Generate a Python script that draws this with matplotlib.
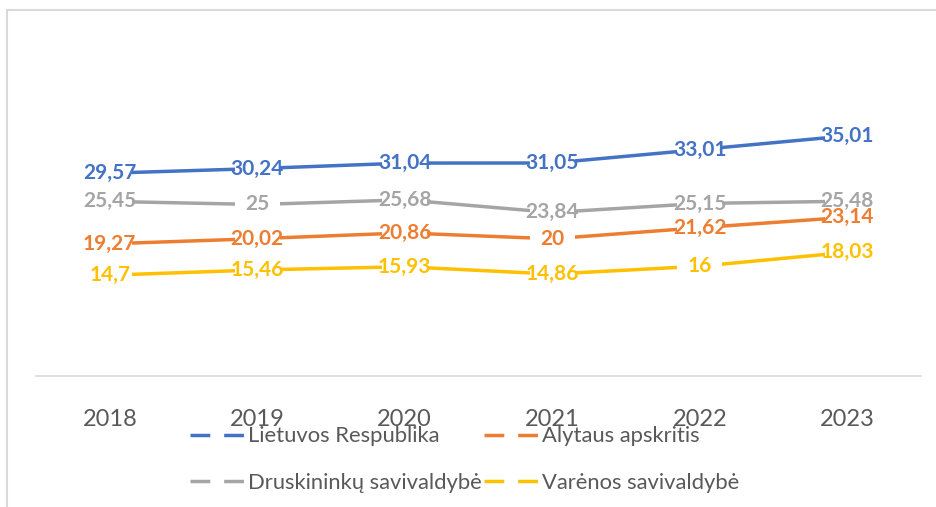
import numpy as np
import matplotlib
matplotlib.use("Agg")
import matplotlib.pyplot as plt
from matplotlib.patches import Rectangle

plt.rcParams["font.family"] = ["Lato", "DejaVu Sans"]

# ---------- data ----------
years = ["2018", "2019", "2020", "2021", "2022", "2023"]
series_names = [
    "Lietuvos Respublika",
    "Alytaus apskritis",
    "Druskininkų savivaldybė",
    "Varėnos savivaldybė",
]
lietuva = [29.57, 30.24, 31.04, 31.05, 33.01, 35.01]
alytus = [19.27, 20.02, 20.86, 20.00, 21.62, 23.14]
druskininkai = [25.45, 25.00, 25.68, 23.84, 25.15, 25.48]
varena = [14.70, 15.46, 15.93, 14.86, 16.00, 18.03]
colors = ["#4472C4", "#ED7D31", "#A5A5A5", "#FFC000"]

all_series = [lietuva, alytus, druskininkai, varena]

W, H = 936, 507
fig = plt.figure(figsize=(W / 100, H / 100), dpi=100)
ax = fig.add_axes([36 / W, (H - 376) / H, 885 / W, 343 / H])

x = np.arange(len(years))
for name, vals, c in zip(series_names, all_series, colors):
    ax.plot(x, vals, color=c, lw=2.5, solid_capstyle="butt", zorder=2)

# data labels with white box behind (Excel style)
box_w, box_h = 0.305, 2.2
for vals, c in zip(all_series, colors):
    for xi, v in zip(x, vals):
        ax.add_patch(Rectangle((xi - box_w / 2, v - box_h / 2), box_w, box_h,
                               facecolor="white", edgecolor="none", zorder=3))
for vals, c in zip(all_series, colors):
    for xi, v in zip(x, vals):
        lab = f"{v:g}".replace(".", ",")
        ax.text(xi, v, lab, ha="center", va="center", color=c, fontsize=15,
                fontweight="bold", zorder=4)

ax.set_xlim(-0.5, len(years) - 0.5)
ax.set_ylim(0, 50)
ax.set_xticks(x)
ax.set_xticklabels(years)
ax.tick_params(axis="x", length=0, pad=24, labelsize=17, labelcolor="#595959")
ax.set_yticks([])
for s in ["top", "right", "left"]:
    ax.spines[s].set_visible(False)
ax.spines["bottom"].set_color("#D9D9D9")
ax.spines["bottom"].set_linewidth(1.2)

# legend with dashed handles, filled row by row like the reference
leg_handles = []
for c in colors:
    (h,) = ax.plot([], [], color=c, lw=2.5, dashes=(5.7, 4.0), dash_capstyle="butt")
    leg_handles.append(h)
order = [0, 2, 1, 3]
fig.legend([leg_handles[i] for i in order], [series_names[i] for i in order],
           loc="center", bbox_to_anchor=(464.5 / W, 1 - 459.5 / H),
           ncol=2, frameon=False, fontsize=15.8, handlelength=2.45, handletextpad=0.2,
           columnspacing=0.1, labelspacing=1.2, labelcolor="#595959", borderpad=0)

# outer chart border (cut off at right and bottom)
fig.patches.append(Rectangle((7 / W, -0.1), 1.2, 1 - 9.5 / H + 0.1, transform=fig.transFigure,
                             fill=False, edgecolor="#D9D9D9", lw=1.5))

fig.savefig("out.png", dpi=100, facecolor="white")
